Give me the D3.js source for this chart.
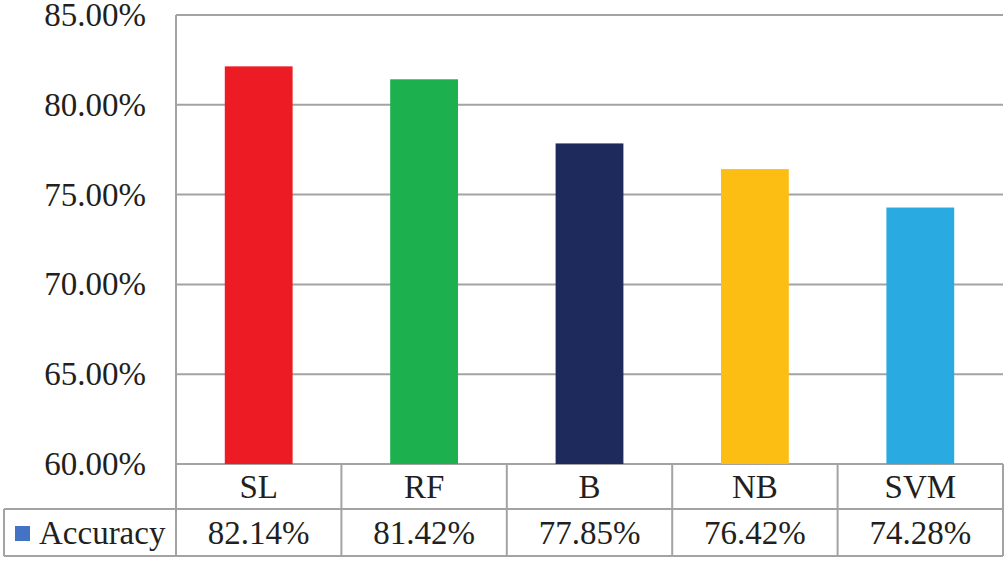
<!DOCTYPE html>
<html>
<head>
<meta charset="utf-8">
<script src="https://cdn.jsdelivr.net/npm/d3@7"></script>
<style>
  html, body { margin: 0; padding: 0; background: #fff; }
  svg { display: block; }
  svg text { font-family: "Liberation Serif", "Times New Roman", Tinos, serif !important; fill: #231F20; }
</style>
</head>
<body>
<svg id="chart" width="1007" height="561"></svg>
<script>
const categories = ["SL", "RF", "B", "NB", "SVM"];
const accuracy = [0.8214, 0.8142, 0.7785, 0.7642, 0.7428];
const valueLabels = ["82.14%", "81.42%", "77.85%", "76.42%", "74.28%"];
const barColors = ["#ED1C24", "#1DB04F", "#1F2A5C", "#FDBE14", "#29ABE2"];
const yTicks = [0.60, 0.65, 0.70, 0.75, 0.80, 0.85];
const seriesName = "Accuracy";
const legendColor = "#4472C4";

(function () {
const svg = d3.select("#chart");
const gridColor = "#A3A3A3";
const fontSize = "33px";
const plotLeft = 176, plotRight = 1003, plotTop = 15, plotBase = 464;
const row1 = 509, row2 = 556, tableLeft = 4;

const y = d3.scaleLinear().domain([0.60, 0.85]).range([plotBase, plotTop]);
const xCol = d3.scaleBand().domain(categories).range([plotLeft, plotRight]).padding(0);
const xBar = d3.scaleBand().domain(categories).range([plotLeft, plotRight])
  .paddingInner(0.59).paddingOuter(0.295);

svg.append("g").selectAll("line").data(yTicks).join("line")
  .attr("x1", plotLeft).attr("x2", plotRight)
  .attr("y1", d => y(d)).attr("y2", d => y(d))
  .attr("stroke", gridColor).attr("stroke-width", 2);

const yAxis = d3.axisLeft(y).tickValues(yTicks).tickSize(0).tickPadding(30)
  .tickFormat(d3.format(".2%"));
const gy = svg.append("g").attr("transform", `translate(${plotLeft},0)`).call(yAxis);
gy.attr("font-family", null).attr("font-size", null);
gy.select(".domain").remove();
gy.selectAll("text").style("font-size", fontSize).attr("fill", "#231F20");

svg.append("g").selectAll("rect").data(categories).join("rect")
  .attr("x", d => xBar(d))
  .attr("width", xBar.bandwidth())
  .attr("y", (d, i) => y(accuracy[i]))
  .attr("height", (d, i) => plotBase - y(accuracy[i]))
  .attr("fill", (d, i) => barColors[i]);

const t = svg.append("g");
t.append("line").attr("x1", plotLeft).attr("x2", plotLeft).attr("y1", plotTop).attr("y2", row2)
  .attr("stroke", gridColor).attr("stroke-width", 2);
const cols = categories.map(c => xCol(c) + xCol.bandwidth());
t.selectAll("line.col").data(cols).join("line").attr("class", "col")
  .attr("x1", d => d).attr("x2", d => d).attr("y1", plotBase).attr("y2", row2)
  .attr("stroke", gridColor).attr("stroke-width", 2);
t.append("line").attr("x1", tableLeft).attr("x2", plotRight).attr("y1", row1).attr("y2", row1)
  .attr("stroke", gridColor).attr("stroke-width", 2);
t.append("line").attr("x1", tableLeft).attr("x2", plotRight).attr("y1", row2).attr("y2", row2)
  .attr("stroke", gridColor).attr("stroke-width", 2);
t.append("line").attr("x1", tableLeft).attr("x2", tableLeft).attr("y1", row1).attr("y2", row2)
  .attr("stroke", gridColor).attr("stroke-width", 2);

t.selectAll("text.cat").data(categories).join("text").attr("class", "cat")
  .attr("x", d => xCol(d) + xCol.bandwidth() / 2)
  .attr("y", (plotBase + row1) / 2)
  .attr("text-anchor", "middle").attr("dominant-baseline", "central")
  .style("font-size", fontSize).text(d => d);

t.selectAll("text.val").data(valueLabels).join("text").attr("class", "val")
  .attr("x", (d, i) => xCol(categories[i]) + xCol.bandwidth() / 2)
  .attr("y", (row1 + row2) / 2)
  .attr("text-anchor", "middle").attr("dominant-baseline", "central")
  .style("font-size", fontSize).text(d => d);

t.append("rect").attr("x", 15).attr("y", 526).attr("width", 15).attr("height", 15)
  .attr("fill", legendColor);
t.append("text").attr("x", 39).attr("y", (row1 + row2) / 2)
  .attr("dominant-baseline", "central").style("font-size", fontSize).text(seriesName);
})();
</script>
</body>
</html>
